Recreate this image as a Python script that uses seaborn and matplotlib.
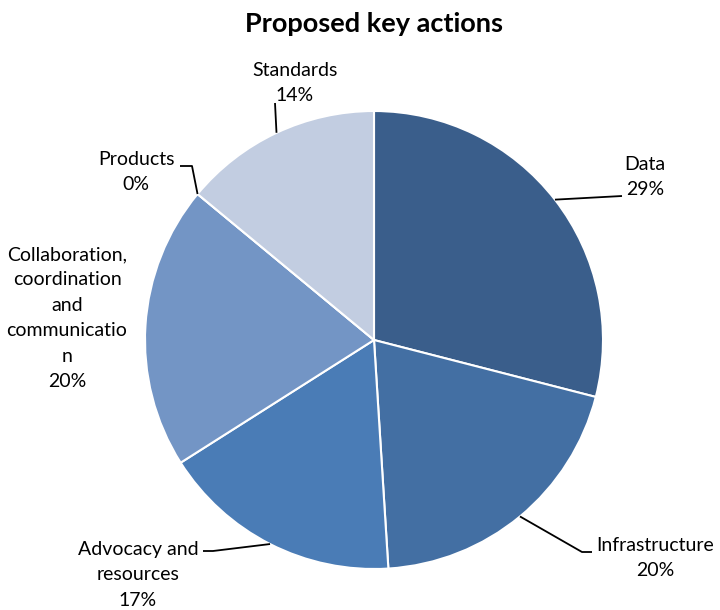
import numpy as np
import matplotlib
matplotlib.use("Agg")
import matplotlib.pyplot as plt
import seaborn as sns

sns.set_theme(style="white")
plt.rcParams['font.family'] = ['Lato', 'DejaVu Sans']

categories = ["Data", "Infrastructure", "Advocacy and resources",
              "Collaboration, coordination and communication", "Products", "Standards"]
label_texts = ["Data", "Infrastructure", "Advocacy and\nresources",
               "Collaboration,\ncoordination\nand\ncommunicatio\nn", "Products", "Standards"]
values = [29, 20, 17, 20, 0, 14]
colors = ["#3A5E8B", "#436FA3", "#4A7CB6", "#7395C5", "#9FB3D6", "#C2CDE1"]

W, H = 720, 610
fig = plt.figure(figsize=(W / 100, H / 100), dpi=100)
ax = fig.add_axes([0, 0, 1, 1])

cx, cy, R = 374, H - 340, 229
wedges, _ = ax.pie(values, colors=colors, startangle=90, counterclock=False,
                   center=(cx, cy), radius=R, frame=True,
                   wedgeprops=dict(edgecolor="white", linewidth=1.5))
ax.set_xlim(0, W)
ax.set_ylim(0, H)
ax.axis("off")

total = sum(values)
pct = [f"{round(v / total * 100)}%" for v in values]

def edge_point(w, frac=0.5):
    a = np.deg2rad(w.theta1 + (w.theta2 - w.theta1) * frac)
    return cx + R * np.cos(a), cy + R * np.sin(a)

# layout: (text block center in px from top-left, leader elbow points)
layout = {
    0: ((645, 177), [(622, 196)]),
    1: ((655, 558), [(582, 552), (592, 552)]),
    2: ((138, 575), [(213, 551), (203, 551)]),
    3: ((67, 318), None),
    4: ((136, 172), [(192, 166), (180, 166)]),
    5: ((295, 83), [(275, 103)]),
}

fs = 14
for i, w in enumerate(wedges):
    (tx, ty), elbows = layout[i]
    ax.text(tx, H - ty, label_texts[i] + "\n" + pct[i], ha="center", va="center",
            fontsize=fs, color="black", linespacing=1.6)
    if elbows is not None:
        frac = 0.0 if values[i] == 0 else 0.5
        x0, y0 = edge_point(w, frac)
        xs = [x0] + [e[0] for e in elbows]
        ys = [y0] + [H - e[1] for e in elbows]
        ax.plot(xs, ys, color="black", linewidth=1.3, solid_capstyle="butt")

ax.text(374, H - 24, "Proposed key actions", ha="center", va="center",
        fontsize=19.5, fontweight="bold", color="black")

fig.savefig("out.png", dpi=100)
